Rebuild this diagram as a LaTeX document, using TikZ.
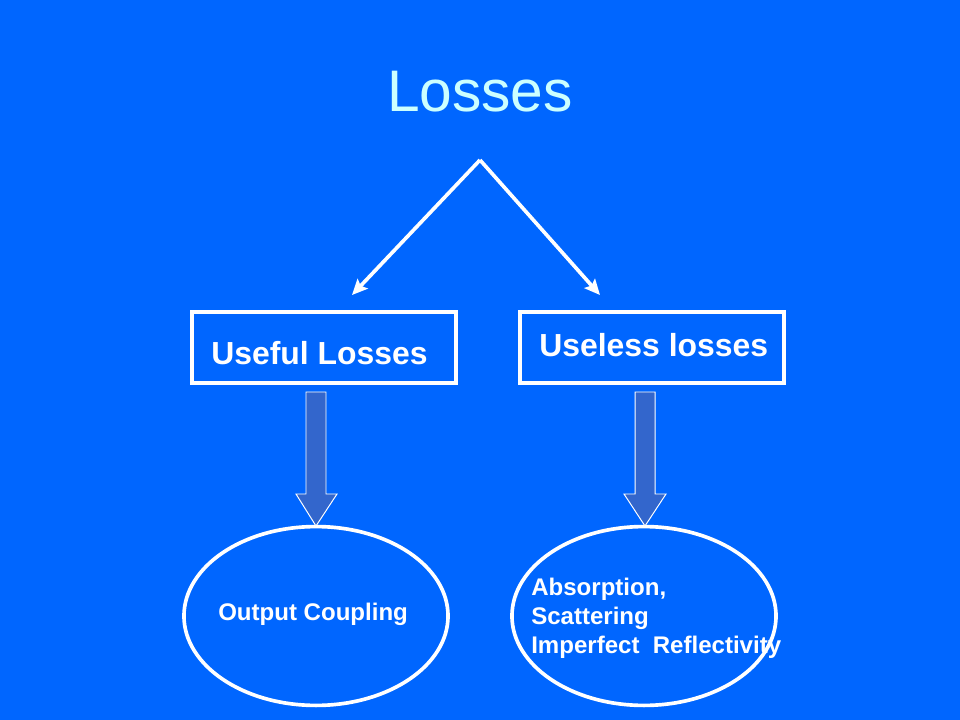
\documentclass[tikz,border=0pt]{standalone}
\usepackage{fontspec}
\setmainfont{Liberation Sans}
\usepackage{xcolor}
\usetikzlibrary{positioning, arrows.meta, shapes.geometric}

\definecolor{slideblue}{HTML}{0066FF}
\definecolor{arrowblue}{HTML}{3366CC}
\definecolor{titlecyan}{HTML}{CCFFFF}

\begin{document}
\begin{tikzpicture}[x=0.025cm, y=-0.025cm]
        \tikzset{lossbox/.style={draw=white, line width=2.8pt, rectangle, minimum width=6.6cm, minimum height=1.78cm, inner sep=0pt},
                 lossoval/.style={draw=white, line width=2.6pt, ellipse, minimum width=6.6cm, minimum height=4.47cm, inner sep=0pt},
                 blockarrow/.style={fill=arrowblue, draw=white, line width=0.7pt},
                 txt/.style={text=white, inner sep=0pt, font=\bfseries}}
        % background
        \fill[slideblue] (0,0) rectangle (960,720);
        \useasboundingbox (0,0) rectangle (960,720);

        \node[inner sep=0pt, anchor=base, text=titlecyan, font=\fontsize{41.7}{48}\selectfont] (title) at (480,112) {Losses};

        \node[lossbox] (useful) at (324,347.5) {};
        \node[txt, anchor=base west, font=\bfseries\fontsize{22.7}{27}\selectfont] (usefultxt) at (211,365) {Useful Losses};
        \node[lossbox] (useless) at (652,347.5) {};
        \node[txt, anchor=base west, font=\bfseries\fontsize{22.7}{27}\selectfont] (uselesstxt) at (539,357) {Useless losses};

        \node[lossoval] (output) at (316,616) {};
        \node[txt, anchor=base west, font=\bfseries\fontsize{17.1}{20.6}\selectfont] (outputtxt) at (218,620) {Output Coupling};
        \node[lossoval] (other) at (644,616) {};
        \node[txt, anchor=base west, align=left, font=\bfseries\fontsize{17.1}{20.6}\selectfont] (othertxt) at (531,653) {Absorption,\\Scattering\\Imperfect\ \ Reflectivity};

        \coordinate (apex) at (480,160);
        \coordinate (leftend) at (352,295);
        \coordinate (rightend) at (600,295);
        \draw[white, line width=2.6pt, -{Stealth[length=11pt, width=10pt, inset=2pt]}] (apex) -- (leftend);
        \draw[white, line width=2.6pt, -{Stealth[length=11pt, width=10pt, inset=2pt]}] (apex) -- (rightend);

        % block arrows
        \draw[blockarrow] (306,392) -- (326,392) -- (326,494) -- (337,494) -- (316,526) -- (296,494) -- (306,494) -- cycle;
        \draw[blockarrow] (635,392) -- (655,392) -- (655,494) -- (666,494) -- (645,526) -- (624,494) -- (635,494) -- cycle;

    \end{tikzpicture}
\end{document}
